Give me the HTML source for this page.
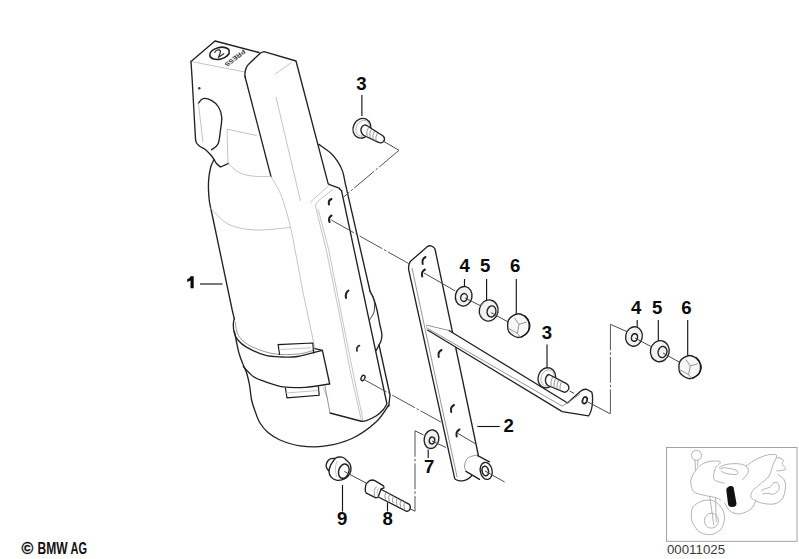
<!DOCTYPE html>
<html><head><meta charset="utf-8">
<style>
html,body{margin:0;padding:0;background:#fff;width:799px;height:559px;overflow:hidden}
svg{position:absolute;left:0;top:0}
.d{fill:none;stroke:#222;stroke-width:1.35;stroke-linecap:round;stroke-linejoin:round}
.w{fill:#fff;stroke:#222;stroke-width:1.35;stroke-linejoin:round}
.l{fill:none;stroke:#bdbdbd;stroke-width:0.9}
.m{fill:none;stroke:#8a8a8a;stroke-width:0.9}
.t{fill:none;stroke:#161616;stroke-width:1.15}
.ds{fill:none;stroke:#555;stroke-width:1;stroke-dasharray:26 2 2.5 2}
.c{fill:none;stroke:#4a4a4a;stroke-width:1}
.lab{font-family:"Liberation Sans",sans-serif;font-weight:bold;font-size:18.6px;fill:#0a0a0a}
</style></head><body>
<svg width="799" height="559" viewBox="0 0 799 559">
<path class="d" d="M191.00,61.50 L215.00,41.00 L259.00,52.50"/>
<path class="l" d="M191.00,61.50 L245.00,72.00"/>
<ellipse class="d" cx="219.5" cy="53.3" rx="10" ry="5.8" transform="rotate(-14 219.5 53.3)" style="stroke-width:1.6"/>
<path d="M215,51 Q217.5,48.5 220.5,50 Q222,52 219.5,54 L217,56.5 L223.5,55.5" fill="none" stroke="#222" stroke-width="1.1" transform="rotate(-25 219.3 53)"/>
<text x="0" y="0" transform="translate(243.3,49) rotate(142)" style="font-family:'Liberation Sans',sans-serif;font-weight:bold;font-size:6.3px;fill:#333" textLength="24" lengthAdjust="spacingAndGlyphs">PRESS</text>
<path class="d" d="M191,61.5 L192.2,80 L195.5,139  C195.67,139.67 195.75,141.75 196.50,143.00 C197.25,144.25 198.58,145.45 200.00,146.50 C201.42,147.55 203.17,147.85 205.00,149.30 C206.83,150.75 209.48,153.50 211.00,155.20 C212.52,156.90 213.18,158.12 214.10,159.50 C215.02,160.88 215.42,162.25 216.50,163.50 C217.58,164.75 219.92,166.42 220.60,167.00 L228.6,163.3"/>
<path class="d" d="M198.40,103.30 C199.17,102.52 200.77,99.05 203.00,98.60 C205.23,98.15 209.22,99.20 211.80,100.60 C214.38,102.00 216.85,104.27 218.50,107.00 C220.15,109.73 221.37,113.17 221.70,117.00 C222.03,120.83 221.12,125.50 220.50,130.00 C219.88,134.50 219.50,140.70 218.00,144.00 C216.50,147.30 212.58,148.83 211.50,149.80"/>
<path class="l" d="M198.40,103.30 L203.00,142.60"/>
<circle cx="199.3" cy="88.3" r="1.2" fill="#333"/>
<path class="l" d="M227,129.2 L256.6,135.5 M227,129.2 L228,163.2"/>
<path class="d" d="M245,77 C244.5,71 246.5,66 249.6,63.3 L259.4,54 Q261,52 264,51.6 L296,61 L328.2,183.9 L331.5,185.4 L339.2,188.2 L341.6,191"/>
<path class="d" d="M245.00,76.50 L271.00,176.60"/>
<path class="l" d="M275.00,74.30 L291.60,62.30"/>
<path class="l" d="M276.00,97.00 L300.50,201.00"/>
<path class="l" d="M271.00,176.60 C272.67,179.67 277.83,186.93 281.00,195.00 C284.17,203.07 287.50,215.00 290.00,225.00 C292.50,235.00 293.92,244.17 296.00,255.00 C298.08,265.83 301.42,284.17 302.50,290.00 L315,348.6"/>
<path class="l" d="M323.00,387.00 L328.00,400.00"/>
<path class="d" d="M214.10,159.50 C213.57,160.67 211.78,163.37 210.90,166.50 C210.02,169.63 209.20,174.38 208.80,178.30 C208.40,182.22 208.38,186.05 208.50,190.00 C208.62,193.95 208.92,198.00 209.50,202.00 C210.08,206.00 211.58,212.00 212.00,214.00 L232.2,310 L234.3,318.9"/>
<path class="l" d="M228.00,163.20 C229.67,164.67 234.00,169.87 238.00,172.00 C242.00,174.13 246.50,175.23 252.00,176.00 C257.50,176.77 267.83,176.50 271.00,176.60"/>
<path class="l" d="M210.00,207.50 C213.00,210.25 220.50,220.25 228.00,224.00 C235.50,227.75 244.67,229.42 255.00,230.00 C265.33,230.58 284.17,227.92 290.00,227.50"/>
<path class="d" d="M318.80,144.40 C320.68,145.77 326.97,149.78 330.10,152.60 C333.23,155.42 335.52,158.17 337.60,161.30 C339.68,164.43 341.35,167.85 342.60,171.40 C343.85,174.95 344.68,180.73 345.10,182.60 L370,291"/>
<path class="d" d="M234.30,318.60 C234.13,319.55 233.30,321.92 233.30,324.30 C233.30,326.68 233.53,330.28 234.30,332.90 C235.07,335.52 235.88,337.63 237.90,340.00 C239.92,342.37 241.88,344.57 246.40,347.10 C250.92,349.63 259.07,353.55 265.00,355.20 C270.93,356.85 276.58,356.78 282.00,357.00 C287.42,357.22 290.77,357.62 297.50,356.50 C304.23,355.38 318.25,351.33 322.40,350.30"/>
<path class="m" d="M235.50,322.00 C235.62,323.08 235.70,326.25 236.20,328.50 C236.70,330.75 237.03,333.17 238.50,335.50 C239.97,337.83 242.08,340.33 245.00,342.50 C247.92,344.67 251.00,346.58 256.00,348.50 C261.00,350.42 268.00,353.08 275.00,354.00 C282.00,354.92 291.33,354.67 298.00,354.00 C304.67,353.33 312.17,350.67 315.00,350.00"/>
<path class="d" d="M315.00,348.60 L322.40,350.30 L329.70,384.00"/>
<path class="d" d="M243.30,366.50 C245.02,368.22 249.98,374.28 253.60,376.80 C257.22,379.32 260.10,379.93 265.00,381.60 C269.90,383.27 276.25,385.85 283.00,386.80 C289.75,387.75 297.80,387.77 305.50,387.30 C313.20,386.83 325.25,384.55 329.20,384.00"/>
<path class="d" d="M234.40,331.50 C234.65,332.75 235.08,335.20 235.90,339.00 C236.72,342.80 238.02,349.85 239.30,354.30 C240.58,358.75 242.35,362.50 243.60,365.70 C244.85,368.90 245.82,370.28 246.80,373.50 C247.78,376.72 248.70,380.58 249.50,385.00 C250.30,389.42 250.68,395.67 251.60,400.00 C252.52,404.33 253.60,407.17 255.00,411.00 C256.40,414.83 257.83,419.42 260.00,423.00 C262.17,426.58 264.67,429.67 268.00,432.50 C271.33,435.33 274.67,437.78 280.00,440.00 C285.33,442.22 292.67,444.77 300.00,445.80 C307.33,446.83 315.33,447.42 324.00,446.20 C332.67,444.98 343.33,442.53 352.00,438.50 C360.67,434.47 369.88,427.58 376.00,422.00 C382.12,416.42 386.62,407.83 388.75,405.00"/>
<path class="t" d="M279.70,355.00 L278.10,344.60 L312.80,343.00 L313.60,353.50"/>
<path class="l" d="M279.70,349.50 L311.00,347.80"/>
<path class="t" d="M285.40,388.00 L287.00,397.80 L319.20,395.30 L318.40,386.50"/>
<path class="l" d="M286.00,393.00 L318.40,390.50"/>
<path class="l" d="M310.00,202.50 L328.75,185.60"/>
<path class="l" d="M326.25,249.9 L315.6,206.9 Q315,204 318,201 L333.75,188.75"/>
<path class="l" d="M318.00,208.75 L328.75,249.90"/>
<path class="l" d="M326.25,249.90 L340.60,320.00 L350.00,370.00 L361.25,420.00"/>
<path class="l" d="M328.75,249.90 L342.50,320.00 L352.50,370.00 L363.00,420.00"/>
<path class="d" d="M341.6,191 L386.9,403.75  C386.25,404.79 384.82,407.96 383.00,410.00 C381.18,412.04 378.79,414.23 376.00,416.00 C373.21,417.77 368.71,419.73 366.25,420.60 C363.79,421.48 362.08,421.14 361.25,421.25 L330,413"/>
<path class="m" d="M330.00,413.00 L325.00,386.00"/>
<path class="d" d="M369.80,291.00 C370.47,292.33 372.60,295.83 373.80,299.00 C375.00,302.17 376.05,306.00 377.00,310.00 C377.95,314.00 378.68,318.93 379.50,323.00 C380.32,327.07 381.65,331.42 381.90,334.40 C382.15,337.38 381.55,339.02 381.00,340.90 C380.45,342.78 379.40,344.10 378.60,345.70 C377.80,347.30 376.60,349.70 376.20,350.50"/>
<path d="M369.80,291.00 C370.37,292.00 372.40,294.67 373.20,297.00 C374.00,299.33 374.53,302.33 374.60,305.00 C374.67,307.67 374.45,310.50 373.60,313.00 C372.75,315.50 370.18,318.83 369.50,320.00" fill="none" stroke="#333" stroke-width="0.9"/>
<path class="d" d="M379.00,345.00 L390.00,395.00 L388.75,406.25"/>
<path class="d" d="M331.5,199 Q328,200.5 329,204.5" style="stroke-width:2.1"/>
<path class="d" d="M331.5,215.5 Q328,217.5 329.5,222" style="stroke-width:2.1"/>
<path class="d" d="M348.5,290.5 Q345,293 346,298" style="stroke-width:2"/>
<path class="d" d="M359.5,345.5 Q356,347 357,351" style="stroke-width:1.6"/>
<ellipse class="d" cx="363" cy="378" rx="1.8" ry="2.8" transform="rotate(25 363 378)"/>
<path d="M190.5,276.3 L193.7,276.3 L193.7,288.2 L190.5,288.2 L190.5,280.6 Q189,281.6 187.2,281.9 L187.2,279.3 Q189.6,278.6 190.5,276.3 Z" fill="#0a0a0a"/>
<path class="t" d="M200.00,284.00 L222.50,284.00"/>
<text class="lab" x="356.3" y="89.5">3</text>
<path class="t" d="M361.90,95.00 L361.90,116.00"/>
<ellipse class="w" cx="361.9" cy="128.3" rx="8.7" ry="10.1" transform="rotate(25 361.9 128.3)"/>
<ellipse cx="362.8" cy="128.3" rx="6.6" ry="8.2" transform="rotate(25 362.8 128.3)" fill="none" stroke="#aaa" stroke-width="0.8"/>
<path class="w" d="M365.5,124.8 L382.8,135.8 Q385.8,138.5 383.5,141.5 Q381,143.8 378,142.2 L364,135.5 Q360.5,133 361,129 Q362,125 365.5,124.8 Z"/>
<path class="m" d="M368.5,127.5 Q366,131 367,136.5 M371.5,129 Q369,133 370,138 M374.5,131 Q372,135 373,139.5 M377.5,133 Q375,137 376,141"/>
<path class="c" d="M383.00,141.00 L399.00,150.30"/>
<path class="ds" d="M399.00,150.30 L343.75,196.90"/>
<path class="ds" d="M331.25,220.00 L408.60,263.50"/>
<path class="ds" d="M363.75,379.40 L440.80,422.00"/>
<path class="w" d="M454.8,478.9 L408.6,269.3 Q408.4,263 411.1,260.8 L427.2,246.8 Q430,244.5 433.6,247.3 Q435,248.5 435.2,250 L478.3,455 L471.5,476 Q466,481.8 459.6,480.8 Q456,480.2 454.8,478.9 Z"/>
<path class="m" d="M412.00,268.00 L440.30,400.00 L457.20,477.30"/>
<path class="w" d="M477.7,455.7 L489.4,461.9 L493,472 L479.5,479.4 L466,471.3 Z" style="stroke:none"/>
<path class="m" d="M477.50,454.80 C476.00,455.25 470.55,456.23 468.50,457.50 C466.45,458.77 465.85,460.82 465.20,462.40 C464.55,463.98 464.48,465.52 464.60,467.00 C464.72,468.48 465.68,470.58 465.90,471.30"/>
<path class="d" d="M477.70,455.70 L489.40,461.90"/>
<path class="d" d="M466.00,471.30 L479.50,479.40"/>
<ellipse class="w" cx="486.2" cy="470.9" rx="5.9" ry="8.6" transform="rotate(-12 486.2 470.9)"/>
<ellipse class="d" cx="485.3" cy="471" rx="3.2" ry="4.8" transform="rotate(-12 485.3 471)" style="stroke-width:1.6"/>
<path class="c" d="M485.00,471.00 L504.60,482.00"/>
<path class="d" d="M425.5,257 q-4,2 -2.8,7" style="stroke-width:2"/>
<path class="d" d="M425,269.5 q-4,2 -2.8,7" style="stroke-width:2"/>
<path class="d" d="M441.5,350 q-4,2 -2.8,7" style="stroke-width:2"/>
<path class="d" d="M454,405 q-4,2 -2.8,7" style="stroke-width:2"/>
<path class="d" d="M459.5,429.5 q-4,2 -2.8,7" style="stroke-width:2"/>
<path class="c" d="M458.00,433.50 L475.00,443.50"/>
<path class="c" d="M424.00,273.00 L455.00,290.80"/>
<path class="w" d="M426,325 L449,330.5 L567.6,403 Q574,397 580.5,391.2 Q584,388.5 587,389.5 L591.8,392.2 Q593,395 592.3,405 Q591,413 588.5,415.9 L562.2,411.6 L427,330 Q425,328 426,325 Z" style="stroke:none"/>
<path class="d" d="M449,330.5 L567.6,403 Q574,397 580.5,391.2 Q584,388.5 587,389.5 L591.8,392.2 Q593,395 592.3,405 Q591,413 588.5,415.9 L562.2,411.6 L427.5,330"/>
<path class="m" d="M427,328 L562.2,406.2 Q572,400 580,394"/>
<path class="m" d="M426.00,325.00 L449.00,330.50"/>
<path class="l" d="M426.00,325.00 L427.50,330.00"/>
<ellipse class="d" cx="584.8" cy="400.3" rx="2.2" ry="3.4" transform="rotate(20 584.8 400.3)" style="stroke-width:1.7"/>
<path class="c" d="M586.00,401.00 L610.00,413.70"/>
<text class="lab" x="503.5" y="431.5">2</text>
<path class="t" d="M477.30,426.50 L499.80,426.50"/>
<text class="lab" x="459.5" y="272.3">4</text>
<text class="lab" x="480" y="272.3">5</text>
<text class="lab" x="510" y="272.3">6</text>
<path class="t" d="M464.5,279 L464.5,286.4 M486.6,279 L486.6,300.3 M516.3,279 L516.3,313.7"/>
<ellipse class="w" cx="463.7" cy="296.3" rx="8.3" ry="9.8" transform="rotate(12 463.7 296.3)" style="fill:#f2f2f2"/>
<ellipse class="d" cx="464" cy="297.5" rx="3.3" ry="4" transform="rotate(12 464 297.5)"/>
<path class="c" d="M465.00,298.00 L481.40,306.20"/>
<ellipse class="w" cx="488.7" cy="310.5" rx="9.4" ry="10.6" transform="rotate(12 488.7 310.5)" style="fill:#f2f2f2"/>
<ellipse class="d" cx="491.5" cy="311.4" rx="4.4" ry="5.6" transform="rotate(12 491.5 311.4)"/>
<path class="m" d="M481,306 L484,302 M480,314 L483,319"/>
<path class="c" d="M491.00,312.60 L508.00,321.90"/>
<path class="w" d="M518.40,313.70 C520.20,313.70 522.19,314.66 523.80,315.65 C525.42,316.65 527.20,317.99 528.10,319.65 C529.00,321.31 529.21,323.62 529.21,325.60 C529.21,327.58 529.00,329.89 528.10,331.55 C527.20,333.21 525.42,334.55 523.80,335.55 C522.19,336.54 520.20,337.50 518.40,337.50 C516.60,337.50 514.61,336.54 513.00,335.55 C511.38,334.55 509.60,333.21 508.70,331.55 C507.80,329.89 507.59,327.58 507.59,325.60 C507.59,323.62 507.80,321.31 508.70,319.65 C509.60,317.99 511.38,316.65 513.00,315.65 C514.61,314.66 516.60,313.70 518.40,313.70 Z" style="fill:#f7f7f7"/>
<path d="M524.56,315.49 C525.44,316.97 529.36,321.53 529.82,324.41 C530.29,327.29 528.89,330.56 527.36,332.74 C525.83,334.92 521.76,336.71 520.64,337.50" fill="none" stroke="#111" stroke-width="1.2"/>
<path class="m" d="M514.5,317.9 L519.0,324.4 L526.8,322.0 M519.0,324.4 L517.3,333.3 M507.8,328.0 L517.3,333.3 L520.6,337.3"/>
<text class="lab" x="541.8" y="339">3</text>
<path class="t" d="M547.00,344.50 L547.00,367.00"/>
<ellipse class="w" cx="546.8" cy="377.8" rx="8.6" ry="10.2" transform="rotate(20 546.8 377.8)"/>
<ellipse cx="547.6" cy="378" rx="6.5" ry="8.3" transform="rotate(20 547.6 378)" fill="none" stroke="#aaa" stroke-width="0.8"/>
<path class="w" d="M549,374.5 L566.5,383.6 Q569.8,386 568.5,389.5 Q566.5,392.8 564,392.2 L548,385.5 Q545,383.5 545.5,379 Q546.5,375 549,374.5 Z"/>
<path class="m" d="M552.5,377 Q550.5,381 551,386.5 M555.5,378.5 Q553.5,382.5 554,388 M558.5,380 Q556.5,384 557,389 M561.5,381.5 Q559.5,385.5 560,390.5"/>
<path class="c" d="M569.70,391.10 L574.00,393.30"/>
<text class="lab" x="631" y="314">4</text>
<text class="lab" x="652" y="314">5</text>
<text class="lab" x="681.3" y="314">6</text>
<path class="t" d="M637.2,320 L637.2,327.6 M658.3,320 L658.3,341.5 M687.7,320 L687.7,355.5"/>
<path class="c" d="M610.40,324.30 L627.60,331.90"/>
<ellipse class="w" cx="634" cy="336.5" rx="8.3" ry="9.8" transform="rotate(12 634 336.5)" style="fill:#f2f2f2"/>
<ellipse class="d" cx="634.5" cy="337.5" rx="3" ry="3.8" transform="rotate(12 634.5 337.5)"/>
<path class="c" d="M635.00,338.00 L651.00,346.50"/>
<ellipse class="w" cx="659.8" cy="351.2" rx="9.4" ry="10.6" transform="rotate(12 659.8 351.2)" style="fill:#f2f2f2"/>
<ellipse class="d" cx="662.5" cy="352" rx="4.4" ry="5.6" transform="rotate(12 662.5 352)"/>
<path class="c" d="M663.00,353.00 L680.00,362.50"/>
<path class="w" d="M689.70,355.50 C691.50,355.50 693.49,356.44 695.10,357.41 C696.72,358.37 698.50,359.68 699.40,361.30 C700.30,362.92 700.51,365.17 700.51,367.10 C700.51,369.03 700.30,371.28 699.40,372.90 C698.50,374.52 696.72,375.83 695.10,376.79 C693.49,377.76 691.50,378.70 689.70,378.70 C687.90,378.70 685.91,377.76 684.30,376.79 C682.68,375.83 680.90,374.52 680.00,372.90 C679.10,371.28 678.89,369.03 678.89,367.10 C678.89,365.17 679.10,362.92 680.00,361.30 C680.90,359.68 682.68,358.37 684.30,357.41 C685.91,356.44 687.90,355.50 689.70,355.50 Z" style="fill:#f7f7f7"/>
<path d="M695.86,357.24 C696.74,358.69 700.66,363.14 701.12,365.94 C701.59,368.74 700.19,371.93 698.66,374.06 C697.13,376.19 693.06,377.93 691.94,378.70" fill="none" stroke="#111" stroke-width="1.2"/>
<path class="m" d="M685.8,359.6 L690.3,365.9 L698.1,363.6 M690.3,365.9 L688.6,374.6 M679.1,369.4 L688.6,374.6 L691.9,378.5"/>
<path class="ds" d="M610.40,324.30 L610.40,413.70"/>
<path class="c" d="M415.00,430.80 L423.60,435.00"/>
<ellipse class="w" cx="431.5" cy="439.2" rx="7.3" ry="9.4" transform="rotate(12 431.5 439.2)" style="fill:#f2f2f2"/>
<ellipse class="d" cx="432" cy="440.5" rx="2.7" ry="3.5" transform="rotate(12 432 440.5)"/>
<path class="c" d="M432.00,441.00 L446.00,447.50"/>
<text class="lab" x="424" y="472.5">7</text>
<path class="t" d="M428.20,449.50 L428.20,458.00"/>
<path class="ds" d="M415.00,430.80 L415.00,511.25"/>
<path class="c" d="M410.00,508.75 L415.00,511.25"/>
<path class="w" d="M335.20,458.30 C337.03,457.17 340.00,456.78 342.00,457.20 C344.00,457.62 345.83,459.57 347.20,460.80 C348.57,462.03 349.60,462.92 350.20,464.60 C350.80,466.28 351.17,468.95 350.80,470.90 C350.43,472.85 349.37,474.85 348.00,476.30 C346.63,477.75 344.55,478.97 342.60,479.60 C340.65,480.23 338.20,480.50 336.30,480.10 C334.40,479.70 332.43,478.73 331.20,477.20 C329.97,475.67 328.93,473.10 328.90,470.90 C328.87,468.70 329.95,466.10 331.00,464.00 C332.05,461.90 333.37,459.43 335.20,458.30 Z"/>
<path class="w" d="M335.20,458.30 C334.50,458.35 332.23,458.15 331.00,458.60 C329.77,459.05 328.60,459.97 327.80,461.00 C327.00,462.03 326.37,463.58 326.20,464.80 C326.03,466.02 326.35,467.28 326.80,468.30 C327.25,469.32 328.55,470.47 328.90,470.90  C329.22,469.88 329.75,466.90 330.80,464.80 C331.85,462.70 334.47,459.38 335.20,458.30"/>
<path class="l" d="M337.00,461.00 C336.75,462.17 335.58,465.33 335.50,468.00 C335.42,470.67 336.33,475.50 336.50,477.00"/>
<ellipse class="w" cx="343.8" cy="471.2" rx="5.1" ry="7.3" transform="rotate(18 343.8 471.2)" style="stroke-width:1.45"/>
<path class="c" d="M344.30,471.50 L366.25,483.10"/>
<text class="lab" x="337" y="525">9</text>
<path class="t" d="M342.50,485.00 L342.50,511.50"/>
<path class="w" d="M379.5,488.5 L409.4,504.4 Q411.5,508 409,510.5 Q407.5,511.5 406.25,511.25 L376.9,496.25 Z"/>
<path class="m" d="M386.0,491.5 q-2,4 -0.5,8 M389.8,493.4 q-2,4 -0.5,8 M393.6,495.4 q-2,4 -0.5,8 M397.4,497.4 q-2,4 -0.5,8 M401.2,499.3 q-2,4 -0.5,8 M405.0,501.2 q-2,4 -0.5,8"/>
<path class="w" d="M365.3,488.75 Q365.5,484 367.5,482.5 Q369.5,480 372,480 L374.4,480.3 L383.1,485.6 Q384.5,487 383.75,488.2 L381.25,488.6 L378.3,496.5 Q377.5,498.2 376,497.8 L366.25,493.1 Q364.8,491 365.3,488.75 Z"/>
<path class="m" d="M376.50,486.50 C376.12,487.18 374.52,488.98 374.20,490.60 C373.88,492.22 374.53,495.27 374.60,496.20"/>
<path class="l" d="M379.00,487.50 C378.70,488.17 377.40,490.00 377.20,491.50 C377.00,493.00 377.70,495.67 377.80,496.50"/>
<text class="lab" x="382.5" y="525">8</text>
<path class="t" d="M387.50,502.50 L387.50,511.50"/>
<text x="21.5" y="554" style="font-family:'Liberation Sans',sans-serif;font-weight:bold;font-size:16px;fill:#111;stroke:#111;stroke-width:0.35">©</text>
<text x="37.5" y="554" style="font-family:'Liberation Sans',sans-serif;font-weight:bold;font-size:16px;fill:#111" textLength="30" lengthAdjust="spacingAndGlyphs">BMW</text>
<text x="70.5" y="554" style="font-family:'Liberation Sans',sans-serif;font-weight:bold;font-size:16px;fill:#111" textLength="16.5" lengthAdjust="spacingAndGlyphs">AG</text>
<rect x="666.5" y="447.5" width="130.5" height="93.8" fill="none" stroke="#9a9a9a" stroke-width="0.9"/>
<text x="667" y="554" style="font-family:'Liberation Sans',sans-serif;font-size:13px;fill:#3a3a3a" textLength="58" lengthAdjust="spacingAndGlyphs">00011025</text>
<g fill="none" stroke="#a0a0a0" stroke-width="0.8"><circle cx="696.5" cy="455.4" r="5"/><path d="M694.90,460.00 C695.03,461.83 695.57,469.17 695.70,471.00"/><path d="M698.00,460.00 C697.92,461.00 697.58,465.00 697.50,466.00"/><path d="M691.60,487.50 C691.47,486.42 690.40,483.47 690.80,481.00 C691.20,478.53 692.22,475.45 694.00,472.70 C695.78,469.95 698.60,466.42 701.50,464.50 C704.40,462.58 708.25,461.62 711.40,461.20 C714.55,460.78 719.72,460.90 720.40,462.00 C721.08,463.10 716.60,465.73 715.50,467.80 C714.40,469.87 713.93,472.35 713.80,474.40 C713.67,476.45 712.92,478.60 714.70,480.10 C716.48,481.60 722.87,482.85 724.50,483.40"/><path d="M691.60,487.50 C692.15,488.33 692.43,491.12 694.90,492.50 C697.37,493.88 703.10,494.98 706.40,495.80 C709.70,496.62 712.27,496.70 714.70,497.40 C717.13,498.10 719.95,499.57 721.00,500.00"/><path d="M718.80,467.80 C720.03,467.25 723.05,465.18 726.20,464.50 C729.35,463.82 734.40,463.43 737.70,463.70 C741.00,463.97 744.22,464.88 746.00,466.10 C747.78,467.32 748.40,469.35 748.40,471.00 C748.40,472.65 747.07,474.50 746.00,476.00 C744.93,477.50 742.67,479.33 742.00,480.00"/><path d="M719.60,469.40 C720.42,469.13 721.77,467.67 724.50,467.80 C727.23,467.93 733.93,469.10 736.00,470.20 C738.07,471.30 738.53,473.85 736.90,474.40 C735.27,474.95 728.85,474.07 726.20,473.50 C723.55,472.93 721.87,471.42 721.00,471.00"/><path d="M746.00,466.10 C747.37,465.15 750.92,462.18 754.20,460.40 C757.48,458.62 762.13,456.37 765.70,455.40 C769.27,454.43 773.82,454.18 775.60,454.60 C777.38,455.02 776.27,457.35 776.40,457.90"/><path d="M776.40,457.90 C776.83,457.90 777.77,457.48 779.00,457.90 C780.23,458.32 783.27,459.43 783.80,460.40 C784.33,461.37 781.92,462.20 782.20,463.70 C782.48,465.20 786.47,468.18 785.50,469.40 C784.53,470.62 777.92,470.73 776.40,471.00"/><path d="M776.40,457.90 C775.83,459.00 774.23,461.48 773.00,464.50 C771.77,467.52 771.33,472.58 769.00,476.00 C766.67,479.42 761.75,482.53 759.00,485.00 C756.25,487.47 753.83,488.73 752.50,490.80 C751.17,492.87 750.45,495.75 751.00,497.40 C751.55,499.05 755.00,500.15 755.80,500.70"/><path d="M755.80,500.70 C756.90,501.12 759.37,502.65 762.40,503.20 C765.43,503.75 770.70,504.70 774.00,504.00 C777.30,503.30 780.28,501.75 782.20,499.00 C784.12,496.25 785.23,490.78 785.50,487.50 C785.77,484.22 785.17,481.48 783.80,479.30 C782.43,477.12 778.38,475.22 777.30,474.40"/><path d="M760.80,490.80 C761.33,490.53 762.35,489.88 764.00,489.20 C765.65,488.52 769.03,487.80 770.70,486.70 C772.37,485.60 772.78,483.15 774.00,482.60 C775.22,482.05 777.17,482.30 778.00,483.40 C778.83,484.50 779.67,487.42 779.00,489.20 C778.33,490.98 775.93,493.42 774.00,494.10 C772.07,494.78 769.33,493.30 767.40,493.30 C765.47,493.30 763.23,493.97 762.40,494.10"/><path d="M724.50,502.40 C725.33,503.77 727.02,508.68 729.50,510.60 C731.98,512.52 735.82,514.17 739.40,513.90 C742.98,513.63 748.27,511.20 751.00,509.00 C753.73,506.80 755.00,502.08 755.80,500.70"/><path d="M694.90,504.80 C694.35,505.77 692.02,507.73 691.60,510.60 C691.18,513.47 691.03,518.43 692.40,522.00 C693.77,525.57 696.63,529.92 699.80,532.00 C702.97,534.08 707.83,535.05 711.40,534.50 C714.97,533.95 719.02,531.58 721.20,528.70 C723.38,525.82 724.50,520.77 724.50,517.20 C724.50,513.63 723.12,510.05 721.20,507.30 C719.28,504.55 716.03,501.80 713.00,500.70 C709.97,499.60 706.02,500.02 703.00,500.70 C699.98,501.38 696.25,504.12 694.90,504.80"/><ellipse cx="711.4" cy="520.7" rx="7" ry="7.5"/><path d="M709.70,495.80 C710.38,500.73 713.12,520.47 713.80,525.40"/><path d="M715.50,497.40 C715.63,501.50 716.17,517.90 716.30,522.00"/></g>
<path d="M727.5,487.5 Q730.5,485 733.5,487 L736.5,503.5 Q736.5,507 732,507 Q728.5,507 728,504 L726.3,490 Q726.3,488.3 727.5,487.5 Z" fill="#111"/>
</svg>
</body></html>
